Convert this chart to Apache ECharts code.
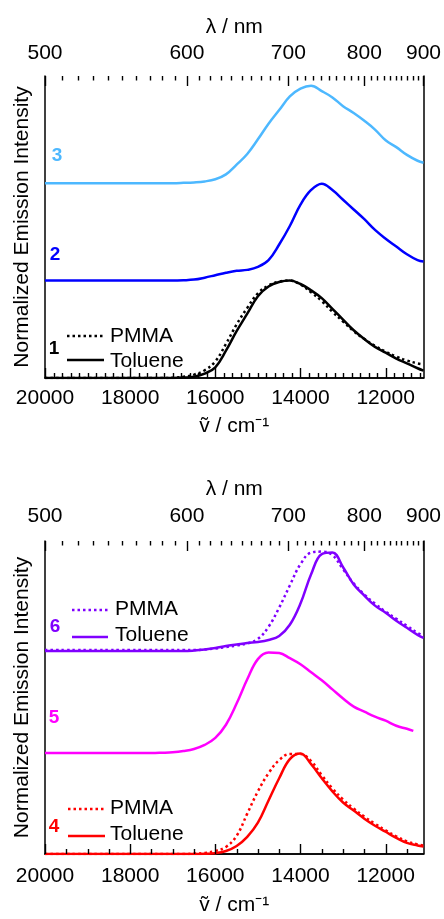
<!DOCTYPE html>
<html>
<head>
<meta charset="utf-8">
<script src="https://cdn.jsdelivr.net/npm/echarts@6/dist/echarts.min.js"></script>
<style>
html,body{margin:0;padding:0;background:#fff;}
#chart{width:444px;height:919px;}
</style>
</head>
<body>
<div id="chart"></div>
<script>
// ---------- data ----------
const wavenumber = [20000,19750,19500,19250,19000,18750,18500,18250,18000,17750,17500,17250,17000,
  16750,16500,16250,16000,15750,15500,15250,15000,14750,14500,14250,14000,13750,13500,13250,13000,
  12750,12500,12250,12000,11750,11500,11250,11111];
const wavenumber5 = [20000,19750,19500,19250,19000,18750,18500,18250,18000,17750,17500,17250,17000,
  16750,16500,16250,16000,15750,15500,15250,15000,14750,14500,14250,14000,13750,13500,13250,13000,
  12750,12500,12250,12000,11750,11500,11350];

const c1Toluene = [0,0,0,0,0,0,0,0,0,0,0,0,0, 0.004,0.014,0.045,0.11,0.28,0.48,0.66,0.84,0.94,0.985,1.0,0.965,0.9,0.82,0.71,0.6,0.49,0.4,0.32,0.26,0.2,0.15,0.1,0.075];
const c1PMMA    = [0,0,0,0,0,0,0,0,0,0,0,0,0.003, 0.012,0.035,0.08,0.17,0.35,0.55,0.72,0.87,0.95,0.99,1.0,0.96,0.88,0.79,0.68,0.58,0.48,0.4,0.33,0.27,0.22,0.18,0.15,0.14];
const c2Toluene = [0,0,0,0,0,0,0,0,0,0,0,0,0, 0.003,0.01,0.03,0.055,0.08,0.1,0.11,0.14,0.21,0.37,0.56,0.78,0.93,0.995,0.93,0.83,0.73,0.63,0.52,0.43,0.35,0.27,0.21,0.195];
const c3Toluene = [0,0,0,0,0,0,0,0,0,0,0,0,0, 0.003,0.008,0.018,0.04,0.09,0.19,0.30,0.45,0.61,0.75,0.89,0.97,1.0,0.945,0.88,0.79,0.72,0.64,0.55,0.44,0.37,0.29,0.23,0.21];

const c4Toluene = [0,0,0,0,0,0,0,0,0,0,0,0,0, 0,0,0.002,0.008,0.03,0.08,0.17,0.31,0.53,0.75,0.94,0.995,0.89,0.75,0.62,0.51,0.43,0.35,0.28,0.22,0.16,0.11,0.085,0.075];
const c4PMMA    = [0,0,0,0,0,0,0,0,0,0,0,0,0, 0,0.003,0.01,0.03,0.07,0.18,0.4,0.62,0.8,0.93,0.99,0.99,0.92,0.78,0.65,0.54,0.45,0.37,0.3,0.235,0.175,0.125,0.095,0.085];
const c5Toluene = [0,0,0,0,0,0,0,0,0,0,0,0.003,0.008, 0.02,0.04,0.08,0.15,0.28,0.49,0.73,0.93,0.995,0.99,0.94,0.88,0.8,0.72,0.63,0.54,0.46,0.41,0.36,0.32,0.27,0.24,0.22];
const c6Toluene = [0.01,0.01,0.01,0.01,0.01,0.01,0.01,0.01,0.01,0.01,0.01,0.01,0.01, 0.01,0.015,0.025,0.04,0.06,0.075,0.09,0.1,0.12,0.16,0.27,0.48,0.77,0.97,0.985,0.84,0.67,0.56,0.46,0.39,0.31,0.24,0.17,0.14];
const c6PMMA    = [0.02,0.02,0.02,0.02,0.02,0.02,0.02,0.02,0.02,0.02,0.02,0.02,0.02, 0.02,0.02,0.025,0.035,0.05,0.065,0.085,0.13,0.25,0.44,0.66,0.87,0.985,0.995,0.96,0.82,0.68,0.57,0.48,0.4,0.33,0.26,0.19,0.16];

const offsets = [0, 1, 2];
const nuLabels = [20000, 18000, 16000, 14000, 12000];
const lambdaLabels = [500, 600, 700, 800, 900];

// ---------- helpers ----------
const FONT = '"Liberation Sans", Arial, sans-serif';
const toNu = l => 1e7 / l;
const NU_MIN = toNu(900), NU_MAX = 20000, Y_MAX = 3.1;
function pairs(xs, ys, off){ return xs.map((x,i)=>[x, ys[i] + off]); }
function range(a,b,s){ const r=[]; for(let v=a; v<=b+1e-9; v+=s) r.push(v); return r; }
const lambdaMinor = range(510, 890, 10).filter(l => l % 100 !== 0);
const nuMinorTop = range(11200, 19800, 200).filter(v => v % 2000 !== 0);
const nuMinorBottom = range(11500, 19500, 500).filter(v => v % 2000 !== 0);

const colors = {c1:'#000000', c2:'#0000ff', c3:'#4db8ff', c4:'#ff0000', c5:'#ff00ff', c6:'#8000ff'};
const AXLINE = {show:true, lineStyle:{color:'#000', width:1.5}};

function xAxes(grid, labelMarginBottom, labelMarginTop, nameGapB, nameGapT){
  const base = {type:'value', gridIndex:grid, min:NU_MIN, max:NU_MAX, inverse:true,
    splitLine:{show:false}, axisLine:AXLINE, axisTick:{show:false}};
  return [
    Object.assign({}, base, {position:'bottom',
      name:'ṽ / cm\u207B\u00B9', nameLocation:'middle', nameGap:nameGapB,
      nameTextStyle:{fontSize:21, color:'#000', fontFamily:FONT},
      axisLabel:{show:true, customValues:nuLabels, margin:labelMarginBottom, fontSize:21, color:'#000', fontFamily:FONT, formatter:v=>String(Math.round(v))}}),
    Object.assign({}, base, {position:'top',
      name:'λ / nm', nameLocation:'middle', nameGap:nameGapT,
      nameTextStyle:{fontSize:21, color:'#000', fontFamily:FONT},
      axisLabel:{show:true, customValues:lambdaLabels.map(toNu), margin:labelMarginTop, fontSize:21, color:'#000', fontFamily:FONT, formatter:v=>String(Math.round(1e7/v))}})
  ];
}
function yAxes(grid){
  return [
    {type:'value', gridIndex:grid, position:'left', min:0, max:Y_MAX, axisLine:AXLINE, axisTick:{show:false},
      axisLabel:{show:false}, splitLine:{show:false},
      name:'Normalized Emission Intensity', nameLocation:'middle', nameGap:12,
      nameTextStyle:{fontSize:21, color:'#000', fontFamily:FONT}},
    {type:'value', gridIndex:grid, position:'right', min:0, max:Y_MAX, axisLine:AXLINE, axisTick:{show:false},
      axisLabel:{show:false}, splitLine:{show:false}}
  ];
}
function line(name, xs, ys, off, color, dotted, xi, yi){
  return {type:'line', name, xAxisIndex:xi, yAxisIndex:yi, data:pairs(xs, ys, off),
    showSymbol:false, smooth:0.4, animation:false, silent:true,
    lineStyle:{color, width:2.5, type: dotted ? [2.5,3] : 'solid'}};
}
function txt(text, x, y, fill, bold, size, align){
  return {type:'text', x, y, silent:true, style:{text, fill, font:(bold?'bold ':'')+size+'px '+FONT,
    textAlign:align||'left', textVerticalAlign:'middle', verticalAlign:'middle'}};
}
function seg(x1, x2, y, color, dotted){
  return {type:'line', silent:true, shape:{x1, y1:y, x2, y2:y},
    style:{stroke:color, lineWidth:2.5, lineDash: dotted ? [2.5,3] : null}};
}

const labelsAndLegends = [
  txt('3', 57, 156, colors.c3, true, 19, 'center'),
  txt('2', 55, 255, colors.c2, true, 19, 'center'),
  txt('1', 54, 349, colors.c1, true, 19, 'center'),
  seg(67, 104, 336, '#000', true), txt('PMMA', 110, 336, '#000', false, 21),
  seg(67, 104, 360, '#000', false), txt('Toluene', 110, 361, '#000', false, 21),

  txt('6', 55, 627, colors.c6, true, 19, 'center'),
  txt('5', 54, 718, colors.c5, true, 19, 'center'),
  txt('4', 54, 827, colors.c4, true, 19, 'center'),
  seg(72, 108, 610, colors.c6, true), txt('PMMA', 115, 609, '#000', false, 21),
  seg(72, 108, 637, colors.c6, false), txt('Toluene', 115, 635, '#000', false, 21),
  seg(68, 105, 809, colors.c4, true), txt('PMMA', 110, 808, '#000', false, 21),
  seg(68, 105, 836, colors.c4, false), txt('Toluene', 110, 834, '#000', false, 21)
];

const chart = echarts.init(document.getElementById('chart'), null, {renderer:'canvas'});
chart.setOption({
  backgroundColor:'#fff',
  animation:false,
  grid:[
    {left:45, top:76, width:380, height:302},
    {left:45, top:541, width:380, height:313}
  ],
  xAxis: [].concat(xAxes(0, 10, 12, 38, 38), xAxes(1, 12, 14, 41, 41)),
  yAxis: [].concat(yAxes(0), yAxes(1)),
  series:[
    line('1 PMMA', wavenumber, c1PMMA, offsets[0], colors.c1, true, 0, 0),
    line('1 Toluene', wavenumber, c1Toluene, offsets[0], colors.c1, false, 0, 0),
    line('2 Toluene', wavenumber, c2Toluene, offsets[1], colors.c2, false, 0, 0),
    line('3 Toluene', wavenumber, c3Toluene, offsets[2], colors.c3, false, 0, 0),
    line('4 PMMA', wavenumber, c4PMMA, offsets[0], colors.c4, true, 2, 2),
    line('4 Toluene', wavenumber, c4Toluene, offsets[0], colors.c4, false, 2, 2),
    line('5 Toluene', wavenumber5, c5Toluene, offsets[1], colors.c5, false, 2, 2),
    line('6 PMMA', wavenumber, c6PMMA, offsets[2], colors.c6, true, 2, 2),
    line('6 Toluene', wavenumber, c6Toluene, offsets[2], colors.c6, false, 2, 2)
  ]
});

// axis ticks placed through the library's own axis scales (wavenumber bottom, wavelength top)
function tickGraphics(xi, yi, nuMinor){
  const finder = {xAxisIndex:xi, yAxisIndex:yi};
  const list = [].concat(
    nuLabels.map(v => [v, 10, 0]),
    nuMinor.map(v => [v, 5, 0]),
    lambdaLabels.map(l => [toNu(l), 10, 1]),
    lambdaMinor.map(l => [toNu(l), 4.5, 1])
  );
  const out = [];
  list.forEach(([v, len, side]) => {
    const p = chart.convertToPixel(finder, [v, side ? Y_MAX : 0]);
    if (!p || !isFinite(p[0]) || !isFinite(p[1])) return;
    const x = Math.round(p[0]) + 0.5, y = Math.round(p[1]);
    out.push({type:'line', silent:true, z:100, shape:{x1:x, y1:y, x2:x, y2: side ? y + len : y - len},
      style:{stroke:'#000', lineWidth:1.4}});
  });
  return out;
}
chart.setOption({
  graphic: [].concat(labelsAndLegends, tickGraphics(0, 0, nuMinorTop), tickGraphics(2, 2, nuMinorBottom))
});
</script>
</body>
</html>
